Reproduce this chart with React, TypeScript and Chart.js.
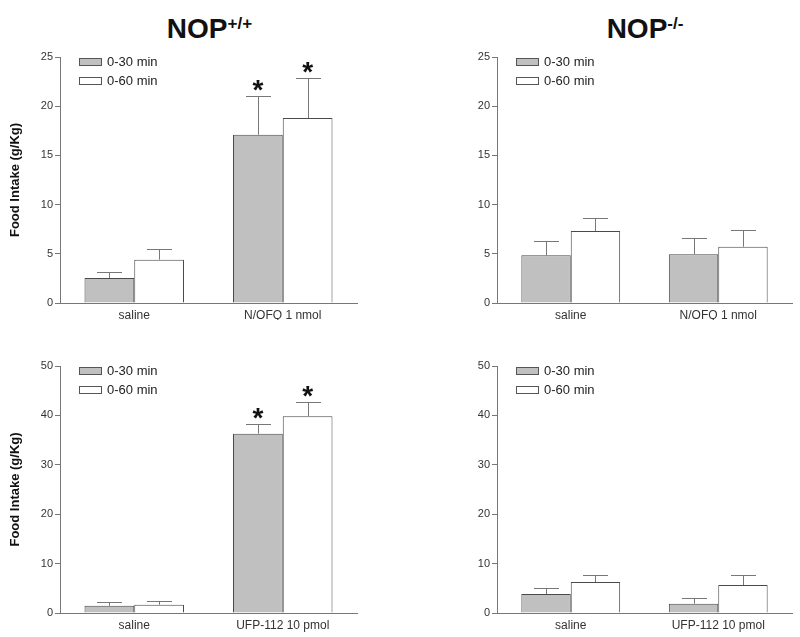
import React, { useEffect, useRef } from 'react';
import { Chart, registerables } from 'chart.js';

Chart.register(...registerables);

const FONT = '"Liberation Sans", Arial, Helvetica, sans-serif';
Chart.defaults.font.family = FONT;

// ---- data ----
const seriesLabels = ['0-30 min', '0-60 min'];
const seriesColors = ['#c0c0c0', '#ffffff'];

const categoriesNofq = ['saline', 'N/OFQ 1 nmol'];
const categoriesUfp = ['saline', 'UFP-112 10 pmol'];

// NOP+/+ , N/OFQ
const wtNofq30 = [2.55, 17.1];
const wtNofq30Sem = [0.65, 3.95];
const wtNofq60 = [4.4, 18.8];
const wtNofq60Sem = [1.1, 4.05];
const wtNofq30Sig = [false, true];
const wtNofq60Sig = [false, true];

// NOP-/- , N/OFQ
const koNofq30 = [4.85, 4.95];
const koNofq30Sem = [1.48, 1.62];
const koNofq60 = [7.32, 5.72];
const koNofq60Sem = [1.35, 1.7];
const koNofq30Sig = [false, false];
const koNofq60Sig = [false, false];

// NOP+/+ , UFP-112
const wtUfp30 = [1.45, 36.3];
const wtUfp30Sem = [0.7, 2.0];
const wtUfp60 = [1.68, 39.85];
const wtUfp60Sem = [0.66, 2.8];
const wtUfp30Sig = [false, true];
const wtUfp60Sig = [false, true];

// NOP-/- , UFP-112
const koUfp30 = [3.84, 1.88];
const koUfp30Sem = [1.21, 1.15];
const koUfp60 = [6.27, 5.66];
const koUfp60Sem = [1.41, 2.02];
const koUfp30Sig = [false, false];
const koUfp60Sig = [false, false];

const yMaxTop = 25;
const yStepTop = 5;
const yMaxBottom = 50;
const yStepBottom = 10;

const yTitle = 'Food Intake (g/Kg)';
const genotypeMain = ['NOP', 'NOP'];
const genotypeSup = ['+/+', '-/-'];

type PanelProps = {
  left: number;
  top: number;
  width: number;
  height: number;
  xAxisHeight: number;
  categories: string[];
  means: number[][];
  sems: number[][];
  sigs: boolean[][];
  yMax: number;
  yStep: number;
  showTitle: boolean;
  axisWidth: number;
  padTop: number;
  padRight: number;
};

function Panel(p: PanelProps) {
  const ref = useRef<HTMLCanvasElement | null>(null);
  useEffect(() => {
    if (!ref.current) return;

    const errorPlugin = {
      id: 'errbars',
      afterDatasetsDraw(chart: any) {
        const ctx = chart.ctx;
        const yScale = chart.scales.y;
        ctx.save();
        chart.data.datasets.forEach((ds: any, di: number) => {
          const meta = chart.getDatasetMeta(di);
          meta.data.forEach((bar: any, i: number) => {
            const m = p.means[di][i];
            const s = p.sems[di][i];
            const yTop = yScale.getPixelForValue(m + s);
            const x = Math.round(bar.x) + 0.5;
            ctx.strokeStyle = '#777';
            ctx.lineWidth = 1;
            ctx.beginPath();
            ctx.moveTo(x, bar.y);
            ctx.lineTo(x, Math.round(yTop) + 0.5);
            ctx.moveTo(x - 12.5, Math.round(yTop) + 0.5);
            ctx.lineTo(x + 12.5, Math.round(yTop) + 0.5);
            ctx.stroke();
            if (p.sigs[di][i]) {
              ctx.font = 'bold 28px ' + FONT;
              ctx.fillStyle = '#111';
              ctx.textAlign = 'center';
              ctx.textBaseline = 'alphabetic';
              const mt = ctx.measureText('*');
              const desc = mt.actualBoundingBoxDescent || 0;
              const glyphBottom = yTop - 5;
              ctx.fillText('*', bar.x, glyphBottom - desc);
            }
          });
        });
        ctx.restore();
      },
    };

    const legendPlugin = {
      id: 'boxlegend',
      afterDraw(chart: any) {
        const ctx = chart.ctx;
        const a = chart.chartArea;
        ctx.save();
        chart.data.datasets.forEach((ds: any, di: number) => {
          const cy = a.top + 4.5 + 19 * di;
          const x0 = a.left + 19;
          ctx.fillStyle = ds.backgroundColor;
          ctx.fillRect(x0, Math.round(cy - 4), 23, 8);
          ctx.strokeStyle = '#555';
          ctx.lineWidth = 1;
          ctx.strokeRect(x0 + 0.5, Math.round(cy - 4) + 0.5, 22, 7);
          ctx.fillStyle = '#222';
          ctx.font = '13px ' + FONT;
          ctx.textAlign = 'left';
          ctx.textBaseline = 'middle';
          ctx.fillText(ds.label, x0 + 28, cy + 0.5);
        });
        ctx.restore();
      },
    };

    const chart = new Chart(ref.current, {
      type: 'bar',
      data: {
        labels: p.categories,
        datasets: seriesLabels.map((lab, di) => ({
          label: lab,
          data: p.means[di],
          backgroundColor: seriesColors[di],
          borderColor: '#4a4a4a',
          borderWidth: 1,
          borderSkipped: 'bottom',
          categoryPercentage: 0.67,
          barPercentage: 1.0,
        })),
      },
      options: {
        responsive: false,
        animation: false,
        devicePixelRatio: 1,
        layout: { padding: { top: p.padTop, right: p.padRight, left: 0, bottom: 0 } },
        plugins: {
          legend: { display: false },
          tooltip: { enabled: false },
          title: { display: false },
        },
        scales: {
          x: {
            type: 'category',
            offset: true,
            grid: { display: true, drawOnChartArea: false, drawTicks: false },
            border: { display: true, color: '#777', width: 1 },
            ticks: { color: '#333', font: { size: 12 }, padding: 5, maxRotation: 0, autoSkip: false },
            afterFit(scale: any) {
              scale.height = p.xAxisHeight;
            },
          },
          y: {
            type: 'linear',
            min: 0,
            max: p.yMax,
            grid: { drawOnChartArea: false, drawTicks: true, tickLength: 5, color: '#777' },
            border: { display: true, color: '#777', width: 1 },
            ticks: { stepSize: p.yStep, color: '#333', font: { size: 11 }, padding: 2 },
            title: {
              display: p.showTitle,
              text: yTitle,
              color: '#111',
              font: { size: 13, weight: 'bold' },
              padding: { top: 8, bottom: 0 },
            },
            afterFit(scale: any) {
              scale.width = p.axisWidth;
            },
          },
        },
      },
      plugins: [errorPlugin, legendPlugin],
    } as any);
    return () => chart.destroy();
  }, []);

  return (
    <canvas
      ref={ref}
      width={p.width}
      height={p.height}
      style={{ position: 'absolute', left: p.left, top: p.top, width: p.width, height: p.height }}
    />
  );
}

function Heading({ cx, idx }: { cx: number; idx: number }) {
  return (
    <div
      style={{
        position: 'absolute',
        left: cx - 120,
        top: 15,
        width: 240,
        textAlign: 'center',
        fontFamily: FONT,
        fontWeight: 'bold',
        fontSize: 28,
        lineHeight: '28px',
        color: '#111',
        whiteSpace: 'nowrap',
      }}
    >
      {genotypeMain[idx]}
      <span style={{ fontSize: 17, position: 'relative', top: -9 }}>{genotypeSup[idx]}</span>
    </div>
  );
}

export default function App() {
  return (
    <div style={{ position: 'absolute', left: 0, top: 0, width: 800, height: 637, background: '#fff', overflow: 'hidden' }}>
      <Heading cx={209.5} idx={0} />
      <Heading cx={645} idx={1} />
      <Panel
        left={0}
        top={0}
        width={400}
        height={320}
        xAxisHeight={17}
        categories={categoriesNofq}
        means={[wtNofq30, wtNofq60]}
        sems={[wtNofq30Sem, wtNofq60Sem]}
        sigs={[wtNofq30Sig, wtNofq60Sig]}
        yMax={yMaxTop}
        yStep={yStepTop}
        showTitle={true}
        axisWidth={60}
        padTop={57}
        padRight={43}
      />
      <Panel
        left={400}
        top={0}
        width={400}
        height={320}
        xAxisHeight={17}
        categories={categoriesNofq}
        means={[koNofq30, koNofq60]}
        sems={[koNofq30Sem, koNofq60Sem]}
        sigs={[koNofq30Sig, koNofq60Sig]}
        yMax={yMaxTop}
        yStep={yStepTop}
        showTitle={false}
        axisWidth={97}
        padTop={57}
        padRight={8}
      />
      <Panel
        left={0}
        top={320}
        width={400}
        height={317}
        xAxisHeight={24}
        categories={categoriesUfp}
        means={[wtUfp30, wtUfp60]}
        sems={[wtUfp30Sem, wtUfp60Sem]}
        sigs={[wtUfp30Sig, wtUfp60Sig]}
        yMax={yMaxBottom}
        yStep={yStepBottom}
        showTitle={true}
        axisWidth={60}
        padTop={46}
        padRight={43}
      />
      <Panel
        left={400}
        top={320}
        width={400}
        height={317}
        xAxisHeight={24}
        categories={categoriesUfp}
        means={[koUfp30, koUfp60]}
        sems={[koUfp30Sem, koUfp60Sem]}
        sigs={[koUfp30Sig, koUfp60Sig]}
        yMax={yMaxBottom}
        yStep={yStepBottom}
        showTitle={false}
        axisWidth={97}
        padTop={46}
        padRight={8}
      />
    </div>
  );
}
